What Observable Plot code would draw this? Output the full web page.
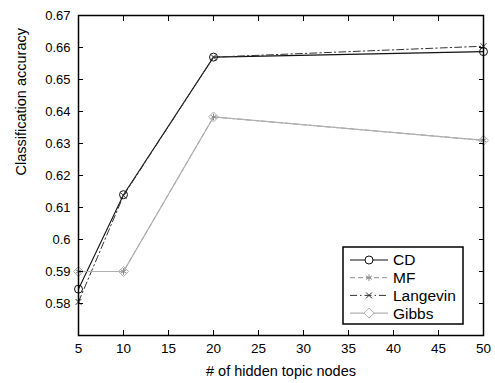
<!DOCTYPE html>
<html><head><meta charset="utf-8">
<script src="https://cdn.jsdelivr.net/npm/d3@7"></script>
<script src="https://cdn.jsdelivr.net/npm/@observablehq/plot@0.6"></script>
<style>
body{margin:0;background:#fff}
#wrap{position:relative;width:495px;height:383px;font-family:"Liberation Sans",Arial,sans-serif}
#legend{position:absolute;left:0;top:0}
</style>
</head><body><div id="wrap"></div>
<script>
const nodes = [5, 10, 20, 50];
const cd = [0.5845, 0.614, 0.657, 0.6587];
const mf = [0.590, 0.590, 0.6383, 0.6310];
const langevin = [0.5805, 0.6137, 0.6570, 0.6604];
const gibbs = [0.590, 0.590, 0.6383, 0.6310];
const xTicks = [5, 10, 15, 20, 25, 30, 35, 40, 45, 50];
const yTicks = [0.58, 0.59, 0.60, 0.61, 0.62, 0.63, 0.64, 0.65, 0.66, 0.67];
const seriesNames = ["CD", "MF", "Langevin", "Gibbs"];
const seriesValues = [cd, mf, langevin, gibbs];

const style = {
  CD: {stroke: "#111", dash: null, symbol: "circle", sw: 1.1, r: 4},
  MF: {stroke: "#8a8a8a", dash: "5,3", symbol: "asterisk", sw: 1, r: 3.2},
  Langevin: {stroke: "#333", dash: "7,3,1.5,3", symbol: "times", sw: 1, r: 2.8},
  Gibbs: {stroke: "#b0b0b0", dash: null, symbol: "diamond2", sw: 1.2, r: 4.5}
};

const rows = seriesNames.flatMap((s, i) => nodes.map((n, j) => ({series: s, x: n, y: seriesValues[i][j]})));
const fmt = d => String(+d.toFixed(2));

const marks = [];
for (const s of seriesNames) {
  const data = rows.filter(r => r.series === s);
  const st = style[s];
  marks.push(Plot.line(data, {x: "x", y: "y", stroke: st.stroke, strokeWidth: st.sw, strokeDasharray: st.dash}));
}
for (const s of seriesNames) {
  const data = rows.filter(r => r.series === s);
  const st = style[s];
  marks.push(Plot.dot(data, {x: "x", y: "y", symbol: () => st.symbol, stroke: st.stroke, strokeWidth: 1, r: st.r, fill: "none"}));
}

const chart = Plot.plot({
  width: 495, height: 383,
  marginLeft: 78, marginRight: 12, marginTop: 15, marginBottom: 48,
  style: {fontFamily: '"Liberation Sans", Arial, sans-serif', fontSize: "13px", color: "#000", background: "#fff"},
  symbol: {type: "identity"},
  x: {domain: [5, 50]},
  y: {domain: [0.57, 0.67]},
  marks: [
    ...marks,
    Plot.frame({stroke: "#000", strokeWidth: 1.5}),
    Plot.axisX(xTicks, {anchor: "bottom", tickSize: -5, tickPadding: 13, tickFormat: d => d, label: null, fontSize: 13.5}),
    Plot.axisX(xTicks, {anchor: "top", tickSize: -5, tickFormat: () => "", label: null}),
    Plot.axisY(yTicks, {anchor: "left", tickSize: -5, tickPadding: 13, tickFormat: fmt, label: null, fontSize: 13}),
    Plot.axisY(yTicks, {anchor: "right", tickSize: -5, tickFormat: () => "", label: null}),
    Plot.text(["# of hidden topic nodes"], {frameAnchor: "bottom", dy: 40, fontSize: 14.5, text: d => d}),
    Plot.text(["Classification accuracy"], {frameAnchor: "left", dx: -57, rotate: -90, fontSize: 14.5, text: d => d})
  ]
});
const wrap = document.getElementById("wrap");
wrap.appendChild(chart);

// legend
const lg = d3.select(wrap).append("svg").attr("id", "legend").attr("width", 495).attr("height", 383);
const box = {x: 343, y: 247, w: 120, h: 77};
lg.append("rect").attr("x", box.x).attr("y", box.y).attr("width", box.w).attr("height", box.h)
  .attr("fill", "#fff").attr("stroke", "#000").attr("stroke-width", 1.5);
const symMap = {circle: d3.symbolCircle, asterisk: d3.symbolAsterisk, times: d3.symbolTimes, diamond2: d3.symbolDiamond2};
seriesNames.forEach((s, i) => {
  const st = style[s];
  const cy = box.y + 13 + i * 17.7;
  lg.append("line").attr("x1", box.x + 7).attr("x2", box.x + 45).attr("y1", cy).attr("y2", cy)
    .attr("stroke", st.stroke).attr("stroke-width", st.sw).attr("stroke-dasharray", st.dash);
  lg.append("path").attr("transform", `translate(${box.x + 26},${cy})`)
    .attr("d", d3.symbol(symMap[st.symbol], Math.PI * st.r * st.r)())
    .attr("fill", "#fff").attr("stroke", st.stroke).attr("stroke-width", 1);
  lg.append("text").attr("x", box.x + 50).attr("y", cy).attr("dy", "0.35em")
    .attr("font-size", 15.5).attr("font-family", '"Liberation Sans", Arial, sans-serif').text(s);
});
</script>
</body></html>
